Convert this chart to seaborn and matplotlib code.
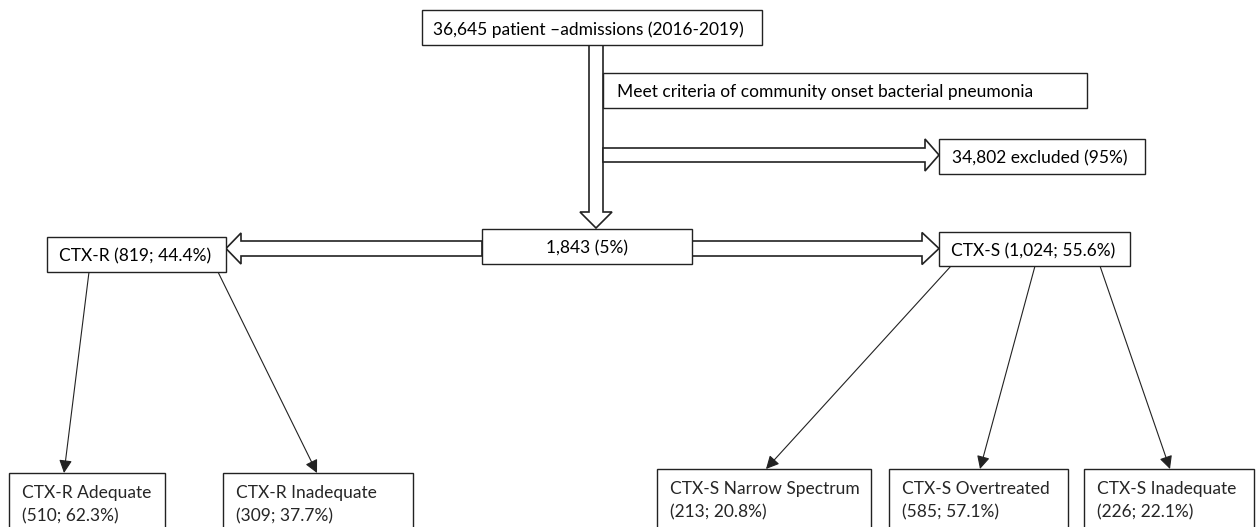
import matplotlib
matplotlib.use("Agg")
import matplotlib.pyplot as plt
from matplotlib.patches import Rectangle, FancyArrow
import seaborn as sns

# values
admissions_n = 36645
admissions_years = "2016-2019"
criteria_label = "Meet criteria of community onset bacterial pneumonia"
excluded_n = 34802
excluded_pct = 95
included_n = 1843
included_pct = 5
group_names = ["CTX-R", "CTX-S"]
group_n = [819, 1024]
group_pct = [44.4, 55.6]
sub_names = ["CTX-R Adequate", "CTX-R Inadequate", "CTX-S Narrow Spectrum",
             "CTX-S Overtreated", "CTX-S Inadequate"]
sub_n = [510, 309, 213, 585, 226]
sub_pct = [62.3, 37.7, 20.8, 57.1, 22.1]

sns.set_theme(style="white")
plt.rcParams['font.family'] = ['Lato', 'DejaVu Sans']

fig = plt.figure(figsize=(12.59, 5.27), dpi=100)
ax = fig.add_axes([0, 0, 1, 1])
ax.set_xlim(0, 1259)
ax.set_ylim(527, 0)
ax.axis("off")

FS = 12.5


def box(x0, y0, x1, y1, text, center=False, pad=12, fs=FS):
    ax.add_patch(Rectangle((x0, y0), x1 - x0, y1 - y0, facecolor="white",
                           edgecolor="#222222", lw=1.0, zorder=3))
    if center:
        ax.text((x0 + x1) / 2, (y0 + y1) / 2 + 2, text, ha="center", va="center",
                fontsize=fs, color="black", zorder=4)
    else:
        ax.text(x0 + pad, (y0 + y1) / 2 + 2, text, ha="left", va="center",
                fontsize=fs, color="black", zorder=4)


def hollow(x, y, dx, dy, w=14, hw=32, hl=15):
    ax.add_patch(FancyArrow(x, y, dx, dy, width=w, head_width=hw, head_length=hl,
                            length_includes_head=True, facecolor="white",
                            edgecolor="#222222", lw=1.2, zorder=2))


# hollow block arrows
hollow(596, 45, 0, 228 - 45, hl=16)
hollow(603, 155, 939 - 603, 0, hl=14)
hollow(482, 248.5, 226 - 482, 0, w=15, hw=31, hl=15)
hollow(692, 248.5, 939 - 692, 0, w=15, hw=32, hl=17)

# boxes
box(422, 10, 762, 45, f"{admissions_n:,} patient \u2013admissions ({admissions_years})", pad=11)
box(603, 73, 1087, 108, criteria_label, pad=14)
box(939, 139, 1145, 174, f"{excluded_n:,} excluded ({excluded_pct}%)", pad=13)
box(482, 229, 692, 264, f"{included_n:,} ({included_pct}%)", center=True)

group_boxes = [(47, 237, 226, 272), (939, 232, 1130, 266)]
for (x0, y0, x1, y1), name, n, p in zip(group_boxes, group_names, group_n, group_pct):
    box(x0, y0, x1, y1, f"{name} ({n:,}; {p}%)", pad=12)

sub_boxes = [(9, 473, 165, 540), (223, 473, 413, 540), (657, 469, 871, 540),
             (889, 469, 1068, 540), (1084, 469, 1254, 540)]
line_start = [(89, 272), (218, 272), (951, 266), (1035, 266), (1100, 266)]
line_end = [(64, 473), (317, 473), (766, 469), (980, 469), (1170, 469)]
for (x0, y0, x1, y1), name, n, p, s, e in zip(sub_boxes, sub_names, sub_n, sub_pct,
                                              line_start, line_end):
    ax.add_patch(Rectangle((x0, y0), x1 - x0, y1 - y0, facecolor="white",
                           edgecolor="#222222", lw=1.0, zorder=3))
    ax.text(x0 + 13, y0 + 20, name, ha="left", va="center", fontsize=FS, zorder=4)
    ax.text(x0 + 13, y0 + 43, f"({n:,}; {p}%)", ha="left", va="center",
            fontsize=FS, zorder=4)
    ax.annotate("", xy=e, xytext=s,
                arrowprops=dict(arrowstyle="-|>,head_length=0.6,head_width=0.3",
                                color="#222222", lw=0.8,
                                mutation_scale=13, shrinkA=0, shrinkB=0),
                zorder=2)

fig.savefig("out.png", dpi=100)
